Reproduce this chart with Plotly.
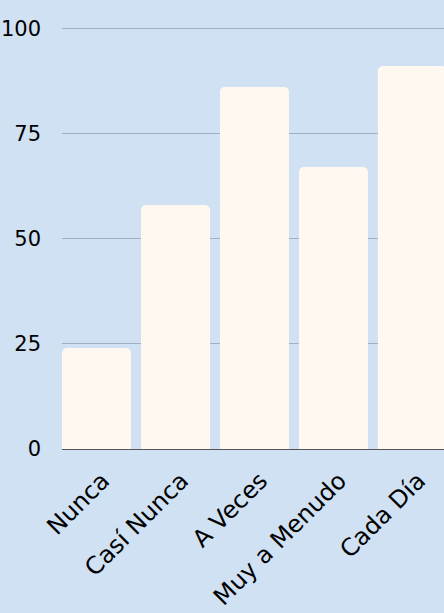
import plotly.graph_objects as go

categories = ["Nunca", "Casí Nunca", "A Veces", "Muy a Menudo", "Cada Día"]
values = [24, 58, 86, 67, 91]
y_ticks = [0, 25, 50, 75, 100]

BG = "#cfe1f3"
BAR = "#fff8f0"
FONT = "DejaVu Sans"

fig = go.Figure(
    go.Bar(
        x=list(range(len(categories))),
        y=values,
        marker=dict(color=BAR, line=dict(width=0)),
        width=0.874,
        hoverinfo="skip",
    )
)

fig.update_layout(
    width=444,
    height=613,
    margin=dict(l=62, r=0, t=24, b=164),
    paper_bgcolor=BG,
    plot_bgcolor=BG,
    barcornerradius=5,
    showlegend=False,
    font=dict(family=FONT, color="#000000", size=18),
)

fig.update_xaxes(
    tickmode="array",
    tickvals=list(range(len(categories))),
    ticktext=categories,
    tickangle=-45,
    range=[-0.437, 4.4],
    showgrid=False,
    showline=True,
    linecolor="#555555",
    linewidth=1,
    layer="below traces",
    ticks="",
    ticklabelstandoff=7,
    ticklabelshift=6,
    tickfont=dict(size=24, family=FONT),
    fixedrange=True,
)

fig.update_yaxes(
    range=[0, 101],
    tickmode="array",
    tickvals=y_ticks,
    showgrid=True,
    gridcolor="#9fb0c4",
    gridwidth=1,
    zeroline=False,
    showline=False,
    ticks="",
    ticklabelstandoff=20,
    tickfont=dict(size=21, family=FONT),
    fixedrange=True,
)

fig.write_html(
    "out.html",
    config={"displayModeBar": False},
    post_script="document.body.style.margin='0';document.body.style.background='%s';" % BG,
)
